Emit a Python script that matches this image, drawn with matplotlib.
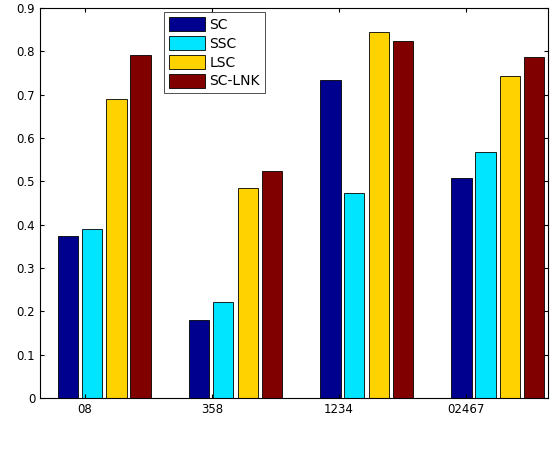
import matplotlib.pyplot as plt
import numpy as np

groups = ["08", "358", "1234", "02467"]
series = ["SC", "SSC", "LSC", "SC-LNK"]
sc = [0.373, 0.179, 0.734, 0.508]
ssc = [0.389, 0.221, 0.473, 0.568]
lsc = [0.689, 0.484, 0.845, 0.742]
lnk = [0.792, 0.523, 0.824, 0.787]
colors = ["#00008F", "#00E5FF", "#FFD200", "#800000"]
# tick labels sit a bit left of the bar groups in the original
tick_pos = [0.851, 1.821, 2.79, 3.76]

fig = plt.figure(figsize=(5.55, 4.5), dpi=100)
ax = fig.add_axes([40/555, 52/450, 508/555, 390/450])
x = np.arange(1, 5)
offs = [-0.275, -0.092, 0.092, 0.275]
for vals, off, c, name in zip([sc, ssc, lsc, lnk], offs, colors, series):
    ax.bar(x + off, vals, width=0.153, color=c, edgecolor="black", linewidth=0.6, label=name)

ax.set_xlim(0.508, 4.385)
ax.set_ylim(0, 0.9)
ax.set_xticks(tick_pos)
ax.set_xticklabels(groups)
ax.set_yticks(np.arange(0, 0.91, 0.1))
ax.set_yticklabels(["0"] + [f"{v:.1f}" for v in np.arange(0.1, 0.91, 0.1)])
ax.tick_params(direction="in", top=True, right=True, labelsize=8.5, length=3)
leg = ax.legend(loc="upper left", bbox_to_anchor=(0.245, 0.99), fancybox=False,
                edgecolor="black", fontsize=10, handlelength=2.6, borderpad=0.35,
                labelspacing=0.3, handleheight=1.2, handletextpad=0.3, borderaxespad=0)
leg.get_frame().set_linewidth(0.6)
fig.savefig("out.png")
